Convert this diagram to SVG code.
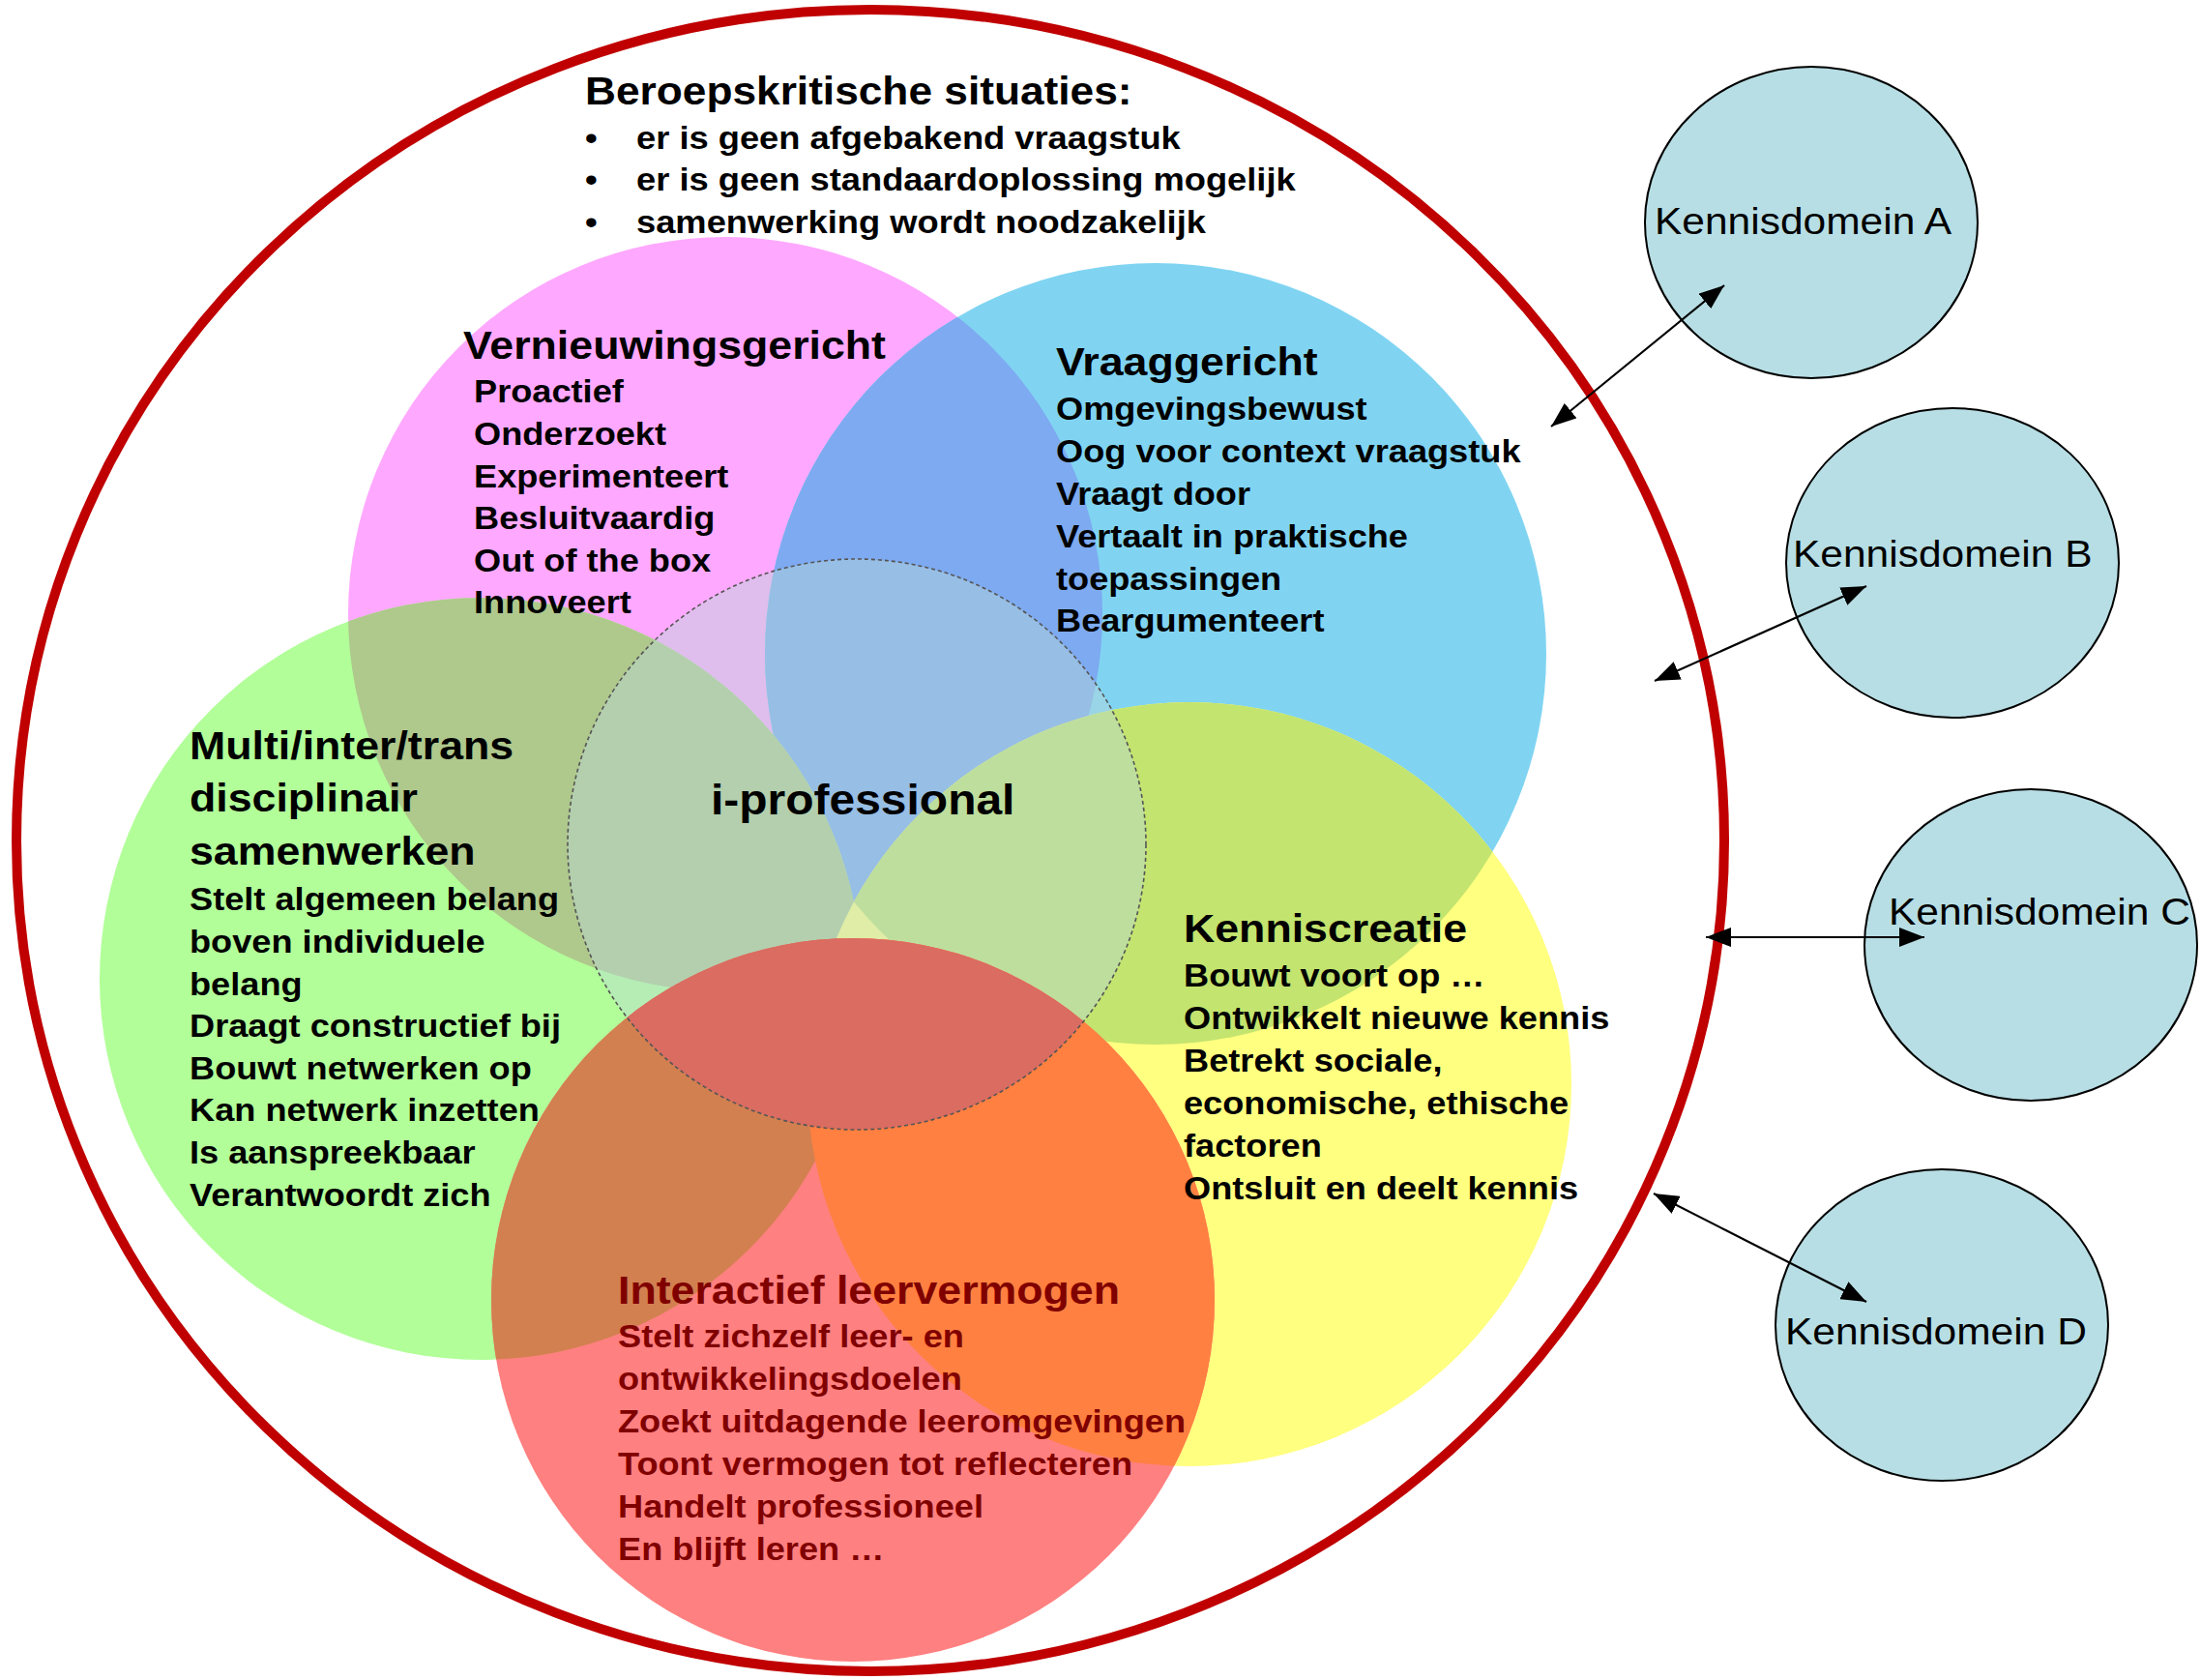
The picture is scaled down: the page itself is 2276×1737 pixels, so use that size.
<svg xmlns="http://www.w3.org/2000/svg" width="2276" height="1737" viewBox="0 0 2276 1737">
<style>
  .b { font-family: "Liberation Sans", Arial, sans-serif; font-weight: bold; fill: #000; }
  .h { font-size: 41px; }
  .t { font-size: 33.2px; }
  .r { font-family: "Liberation Sans", Arial, sans-serif; font-weight: normal; font-size: 39px; fill: #000; }
  .dr { fill: #800000; }
  .kd { fill: #B7DEE4; stroke: #000; stroke-width: 2; }
  .con { stroke: #000; stroke-width: 2.2; fill: none; marker-start: url(#ah); marker-end: url(#ah); }
</style>
<defs>
  <marker id="ah" viewBox="0 0 13 10" refX="13" refY="5" markerWidth="26" markerHeight="20" markerUnits="userSpaceOnUse" orient="auto-start-reverse">
    <path d="M0,0 L13,5 L0,10 z" fill="#000"/>
  </marker>
  <clipPath id="cp-pink"><circle cx="750" cy="635" r="390"/></clipPath>
  <clipPath id="cp-blue"><circle cx="1195" cy="676" r="404"/></clipPath>
  <clipPath id="cp-green"><circle cx="497" cy="1012" r="394"/></clipPath>
  <clipPath id="cp-yellow"><circle cx="1230" cy="1121" r="395"/></clipPath>
  <clipPath id="cp-iprof"><ellipse cx="886" cy="873" rx="299" ry="295"/></clipPath>
</defs>
<rect width="2276" height="1737" fill="#fff"/>

<g id="venn-shapes">
  <g id="shape-vernieuwingsgericht"><circle cx="750" cy="635" r="390" fill="#FFA8FF"/></g>
  <g id="shape-vraaggericht">
    <circle cx="1195" cy="676" r="404" fill="#80D4F2"/>
    <circle cx="1195" cy="676" r="404" fill="#7DAAF0" clip-path="url(#cp-pink)"/>
  </g>
  <g id="shape-samenwerken">
    <circle cx="497" cy="1012" r="394" fill="#B2FF99"/>
    <circle cx="497" cy="1012" r="394" fill="#AFC88C" clip-path="url(#cp-pink)"/>
  </g>
  <g id="shape-kenniscreatie">
    <circle cx="1230" cy="1121" r="395" fill="#FFFF80"/>
    <circle cx="1230" cy="1121" r="395" fill="#C3E46E" clip-path="url(#cp-blue)"/>
  </g>
  <g id="shape-iprof-fill"><ellipse cx="886" cy="873" rx="299" ry="295" fill="#B9D7D7" fill-opacity="0.45"/></g>
  <g id="shape-interactief">
    <circle cx="882" cy="1344" r="374" fill="#FF8080"/>
    <circle cx="882" cy="1344" r="374" fill="#D28050" clip-path="url(#cp-green)"/>
    <circle cx="882" cy="1344" r="374" fill="#FF8040" clip-path="url(#cp-yellow)"/>
    <circle cx="882" cy="1344" r="374" fill="#DA6C62" clip-path="url(#cp-iprof)"/>
  </g>
  <g id="shape-iprof-outline"><ellipse cx="886" cy="873" rx="299" ry="295" fill="none" stroke="#555" stroke-width="1.6" stroke-dasharray="4 3"/></g>
</g>

<g id="outer-circle"><ellipse cx="900" cy="869" rx="883" ry="859" fill="none" stroke="#C00000" stroke-width="10"/></g>

<g id="node-kennisdomein-a">
  <ellipse class="kd" cx="1873" cy="230" rx="172" ry="161"/>
  <text class="r" transform="translate(1711,242) scale(1.09,1)">Kennisdomein A</text>
</g>
<g id="node-kennisdomein-b">
  <ellipse class="kd" cx="2019" cy="582" rx="172" ry="160"/>
  <text class="r" transform="translate(1854,586) scale(1.09,1)">Kennisdomein B</text>
</g>
<g id="node-kennisdomein-c">
  <ellipse class="kd" cx="2100" cy="977" rx="172" ry="161"/>
  <text class="r" transform="translate(1953,956) scale(1.09,1)">Kennisdomein C</text>
</g>
<g id="node-kennisdomein-d">
  <ellipse class="kd" cx="2008" cy="1370" rx="172" ry="161"/>
  <text class="r" transform="translate(1846,1390) scale(1.09,1)">Kennisdomein D</text>
</g>

<g id="connectors">
  <line class="con" x1="1604" y1="441" x2="1783" y2="295"/>
  <line class="con" x1="1711" y1="704" x2="1930" y2="606"/>
  <line class="con" x1="1764" y1="969" x2="1990" y2="969"/>
  <line class="con" x1="1710" y1="1234" x2="1930" y2="1346"/>
</g>

<g id="node-beroepskritische-situaties">
  <text class="b h" transform="translate(605,108) scale(1.09,1)" style="font-size:40.6px">Beroepskritische situaties:</text>
  <g class="b" style="font-size:33.3px">
    <text transform="translate(605,154) scale(1.09,1)">•</text>
    <text transform="translate(658,154) scale(1.09,1)">er is geen afgebakend vraagstuk</text>
    <text transform="translate(605,197) scale(1.09,1)">•</text>
    <text transform="translate(658,197) scale(1.09,1)">er is geen standaardoplossing mogelijk</text>
    <text transform="translate(605,241) scale(1.09,1)">•</text>
    <text transform="translate(658,241) scale(1.09,1)">samenwerking wordt noodzakelijk</text>
  </g>
</g>

<g id="node-vernieuwingsgericht">
  <text class="b h" transform="translate(479,371) scale(1.09,1)">Vernieuwingsgericht</text>
  <text class="b t" transform="translate(490,0) scale(1.09,1)">
    <tspan x="0" y="416">Proactief</tspan>
    <tspan x="0" y="460">Onderzoekt</tspan>
    <tspan x="0" y="504">Experimenteert</tspan>
    <tspan x="0" y="547">Besluitvaardig</tspan>
    <tspan x="0" y="591">Out of the box</tspan>
    <tspan x="0" y="634">Innoveert</tspan>
  </text>
</g>

<g id="node-vraaggericht">
  <text class="b h" transform="translate(1092,388) scale(1.09,1)">Vraaggericht</text>
  <text class="b t" transform="translate(1092,0) scale(1.09,1)">
    <tspan x="0" y="434">Omgevingsbewust</tspan>
    <tspan x="0" y="478">Oog voor context vraagstuk</tspan>
    <tspan x="0" y="522">Vraagt door</tspan>
    <tspan x="0" y="566">Vertaalt in praktische</tspan>
    <tspan x="0" y="610">toepassingen</tspan>
    <tspan x="0" y="653">Beargumenteert</tspan>
  </text>
</g>

<g id="node-samenwerken">
  <text class="b h" transform="translate(196,0) scale(1.09,1)">
    <tspan x="0" y="785">Multi/inter/trans</tspan>
    <tspan x="0" y="839">disciplinair</tspan>
    <tspan x="0" y="894">samenwerken</tspan>
  </text>
  <text class="b t" transform="translate(196,0) scale(1.09,1)">
    <tspan x="0" y="941">Stelt algemeen belang</tspan>
    <tspan x="0" y="985">boven individuele</tspan>
    <tspan x="0" y="1029">belang</tspan>
    <tspan x="0" y="1072">Draagt constructief bij</tspan>
    <tspan x="0" y="1116">Bouwt netwerken op</tspan>
    <tspan x="0" y="1159">Kan netwerk inzetten</tspan>
    <tspan x="0" y="1203">Is aanspreekbaar</tspan>
    <tspan x="0" y="1247">Verantwoordt zich</tspan>
  </text>
</g>

<g id="node-i-professional">
  <text class="b" style="font-size:44px" transform="translate(735,842) scale(1.09,1)">i-professional</text>
</g>

<g id="node-kenniscreatie">
  <text class="b h" transform="translate(1224,974) scale(1.09,1)">Kenniscreatie</text>
  <text class="b t" transform="translate(1224,0) scale(1.09,1)">
    <tspan x="0" y="1020">Bouwt voort op …</tspan>
    <tspan x="0" y="1064">Ontwikkelt nieuwe kennis</tspan>
    <tspan x="0" y="1108">Betrekt sociale,</tspan>
    <tspan x="0" y="1152">economische, ethische</tspan>
    <tspan x="0" y="1196">factoren</tspan>
    <tspan x="0" y="1240">Ontsluit en deelt kennis</tspan>
  </text>
</g>

<g id="node-interactief-leervermogen">
  <text class="b h dr" transform="translate(639,1348) scale(1.09,1)">Interactief leervermogen</text>
  <text class="b t dr" transform="translate(639,0) scale(1.09,1)">
    <tspan x="0" y="1393">Stelt zichzelf leer- en</tspan>
    <tspan x="0" y="1437">ontwikkelingsdoelen</tspan>
    <tspan x="0" y="1481">Zoekt uitdagende leeromgevingen</tspan>
    <tspan x="0" y="1525">Toont vermogen tot reflecteren</tspan>
    <tspan x="0" y="1569">Handelt professioneel</tspan>
    <tspan x="0" y="1613">En blijft leren …</tspan>
  </text>
</g>
</svg>
